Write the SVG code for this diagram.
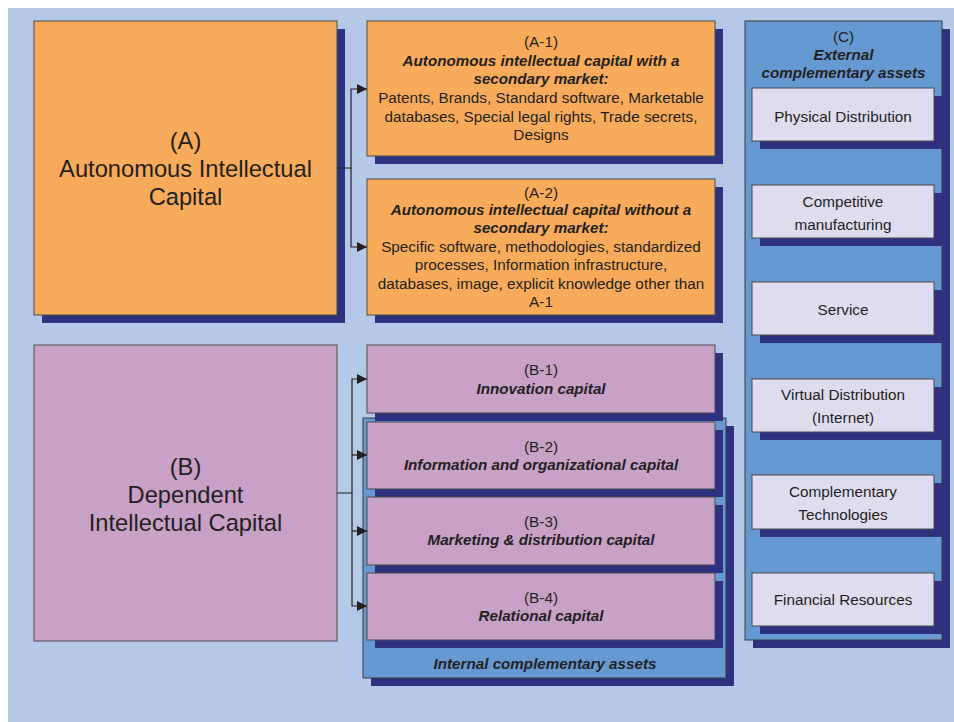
<svg xmlns="http://www.w3.org/2000/svg" width="954" height="722" viewBox="0 0 954 722">
<defs>
<style>
.bg{fill:#b3c9e7}
.sh{fill:#2e3080}
.or{fill:#f8ab5a;stroke:#4a4a4a;stroke-width:1}
.pu{fill:#c8a0c8;stroke:#4a4a4a;stroke-width:1}
.ct{fill:#6699d1;stroke:#3a3a3a;stroke-width:1}
.lt{fill:#dfdcf0;stroke:#4a4a4a;stroke-width:1}
text{font-family:"Liberation Sans",Arial,sans-serif;fill:#231f20;text-anchor:middle}
.big{font-size:23.7px}
.r{font-size:15.3px}
.bi{font-size:15.2px;font-weight:bold;font-style:italic}
.cn{fill:none;stroke:#231f20;stroke-width:1.2}
</style>
<marker id="ah" markerUnits="userSpaceOnUse" markerWidth="10" markerHeight="10" refX="10" refY="5" orient="auto">
<path d="M0,0 L10,5 L0,10 z" fill="#231f20"/>
</marker>
</defs>
<rect class="bg" x="8" y="8" width="946" height="714"/>

<g id="nodeA">
<rect class="sh" x="42" y="29" width="303" height="294"/>
<rect class="or" x="34" y="21" width="303" height="294"/>
<text class="big" x="185.5" y="149">(A)</text>
<text class="big" x="185.5" y="177">Autonomous Intellectual</text>
<text class="big" x="185.5" y="205">Capital</text>
</g>

<g id="nodeA1">
<rect class="sh" x="375" y="29" width="348" height="135"/>
<rect class="or" x="367" y="21" width="348" height="135"/>
<text class="r" x="541" y="46.5">(A-1)</text>
<text class="bi" x="541" y="65.5">Autonomous intellectual capital with a</text>
<text class="bi" x="541" y="84">secondary market:</text>
<text class="r" x="541" y="103">Patents, Brands, Standard software, Marketable</text>
<text class="r" x="541" y="121.5">databases, Special legal rights, Trade secrets,</text>
<text class="r" x="541" y="140">Designs</text>
</g>

<g id="nodeA2">
<rect class="sh" x="375" y="187" width="348" height="136"/>
<rect class="or" x="367" y="179" width="348" height="136"/>
<text class="r" x="541" y="198">(A-2)</text>
<text class="bi" x="541" y="215">Autonomous intellectual capital without a</text>
<text class="bi" x="541" y="233">secondary market:</text>
<text class="r" x="541" y="252">Specific software, methodologies, standardized</text>
<text class="r" x="541" y="270">processes, Information infrastructure,</text>
<text class="r" x="541" y="288.5">databases, image, explicit knowledge other than</text>
<text class="r" x="541" y="306.5">A-1</text>
</g>

<g id="nodeB">
<rect class="pu" x="34" y="345" width="303" height="296"/>
<text class="big" x="185.5" y="475">(B)</text>
<text class="big" x="185.5" y="503">Dependent</text>
<text class="big" x="185.5" y="531">Intellectual Capital</text>
</g>

<g id="internal">
<rect class="sh" x="371" y="426" width="363" height="260"/>
<rect class="ct" x="363" y="418" width="363" height="260"/>
<text class="bi" x="545" y="669">Internal complementary assets</text>
</g>

<g id="nodeB1">
<rect class="sh" x="375" y="353" width="348" height="68"/>
<rect class="pu" x="367" y="345" width="348" height="68"/>
<text class="r" x="541" y="375">(B-1)</text>
<text class="bi" x="541" y="394">Innovation capital</text>
</g>

<g id="nodeB2">
<rect class="sh" x="375" y="430" width="348" height="67"/>
<rect class="pu" x="367" y="422" width="348" height="67"/>
<text class="r" x="541" y="451.5">(B-2)</text>
<text class="bi" x="541" y="470">Information and organizational capital</text>
</g>

<g id="nodeB3">
<rect class="sh" x="375" y="505" width="348" height="68"/>
<rect class="pu" x="367" y="497" width="348" height="68"/>
<text class="r" x="541" y="527">(B-3)</text>
<text class="bi" x="541" y="545">Marketing &amp; distribution capital</text>
</g>

<g id="nodeB4">
<rect class="sh" x="375" y="581" width="348" height="67"/>
<rect class="pu" x="367" y="573" width="348" height="67"/>
<text class="r" x="541" y="602.5">(B-4)</text>
<text class="bi" x="541" y="620.5">Relational capital</text>
</g>

<g id="external">
<rect class="sh" x="753" y="29" width="197" height="619"/>
<rect class="ct" x="745" y="21" width="197" height="619"/>
<text class="r" x="843.5" y="42">(C)</text>
<text class="bi" x="843.5" y="60">External</text>
<text class="bi" x="843.5" y="78">complementary assets</text>
</g>

<g id="c1">
<rect class="sh" x="760" y="96" width="182" height="53"/>
<rect class="lt" x="752" y="88" width="182" height="53"/>
<text class="r" x="843" y="121.5">Physical Distribution</text>
</g>
<g id="c2">
<rect class="sh" x="760" y="193" width="182" height="53"/>
<rect class="lt" x="752" y="185" width="182" height="53"/>
<text class="r" x="843" y="206.5">Competitive</text>
<text class="r" x="843" y="229.5">manufacturing</text>
</g>
<g id="c3">
<rect class="sh" x="760" y="290" width="182" height="53"/>
<rect class="lt" x="752" y="282" width="182" height="53"/>
<text class="r" x="843" y="314.5">Service</text>
</g>
<g id="c4">
<rect class="sh" x="760" y="387" width="182" height="53"/>
<rect class="lt" x="752" y="379" width="182" height="53"/>
<text class="r" x="843" y="400">Virtual Distribution</text>
<text class="r" x="843" y="423">(Internet)</text>
</g>
<g id="c5">
<rect class="sh" x="760" y="483" width="182" height="54"/>
<rect class="lt" x="752" y="475" width="182" height="54"/>
<text class="r" x="843" y="496.5">Complementary</text>
<text class="r" x="843" y="519.5">Technologies</text>
</g>
<g id="c6">
<rect class="sh" x="760" y="581" width="182" height="53"/>
<rect class="lt" x="752" y="573" width="182" height="53"/>
<text class="r" x="843" y="605">Financial Resources</text>
</g>

<g id="connectors">
<path class="cn" d="M337,168 H351 V89 H367" marker-end="url(#ah)"/>
<path class="cn" d="M351,168 V247 H367" marker-end="url(#ah)"/>
<path class="cn" d="M337,493 H352 V379 H367" marker-end="url(#ah)"/>
<path class="cn" d="M352,493 V606 H367" marker-end="url(#ah)"/>
<path class="cn" d="M352,455 H367" marker-end="url(#ah)"/>
<path class="cn" d="M352,531 H367" marker-end="url(#ah)"/>
</g>
</svg>
